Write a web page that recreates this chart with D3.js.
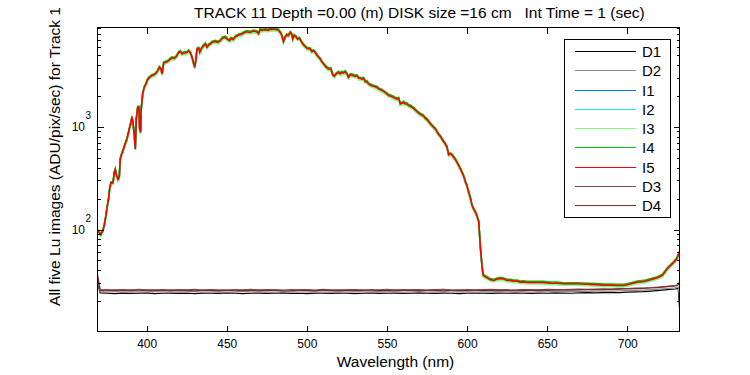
<!DOCTYPE html>
<html>
<head>
<meta charset="utf-8">
<script src="https://cdn.jsdelivr.net/npm/d3@7"></script>
<style>
body { margin: 0; background: #fff; }
svg { display: block; font-family: "Liberation Sans", Arial, sans-serif; }
</style>
</head>
<body>
<svg id="chart" width="750" height="375"></svg>
<script>
// wavelength grid of the five Lu images (nm)
var sigWl = [
  369.3, 371.4, 372.7, 373.5, 374.6, 375.2, 376.2, 376.9, 377.7, 379.0,
  379.8, 380.4, 381.0, 382.1, 382.9, 383.5, 384.6, 385.6, 386.6, 387.7,
  388.7, 389.4, 390.2, 390.8, 391.4, 392.3, 392.9, 393.5, 394.4, 395.2,
  395.6, 396.2, 396.6, 397.5, 398.5, 399.6, 400.6, 401.9, 403.3, 404.4,
  405.4, 406.4, 407.9, 408.9, 409.6, 410.6, 412.7, 413.7, 414.8, 415.8,
  417.3, 418.5, 420.0, 421.0, 422.1, 423.1, 424.1, 425.2, 426.2, 427.3,
  428.3, 429.4, 430.0, 430.8, 431.4, 432.5, 433.1, 434.1, 435.2, 436.6,
  437.7, 438.7, 439.8, 440.8, 442.9, 444.4, 446.0, 447.1, 449.2, 450.6,
  451.9, 452.7, 454.0, 455.4, 457.5, 459.6, 460.4, 462.5, 464.6, 466.6,
  468.7, 469.8, 470.8, 471.8, 473.9, 476.0, 477.1, 478.1, 479.1, 481.2,
  482.3, 483.3, 484.3, 485.4, 486.4, 487.5, 488.5, 489.6, 490.6, 491.2,
  492.0, 493.3, 494.1, 495.4, 496.8, 497.9, 498.9, 500.0, 502.1, 503.1,
  504.1, 505.2, 506.2, 507.3, 508.3, 509.3, 510.4, 512.1, 513.5, 515.0,
  516.2, 517.1, 518.3, 519.8, 520.8, 521.8, 522.9, 523.9, 525.0, 526.0,
  527.1, 528.1, 529.1, 530.2, 531.2, 532.3, 533.3, 534.3, 535.4, 536.4,
  537.5, 538.5, 539.6, 540.6, 541.6, 543.7, 544.8, 545.8, 547.9, 548.9,
  550.0, 551.0, 552.1, 554.1, 555.2, 556.2, 557.3, 558.3, 559.3, 560.4,
  561.4, 562.5, 563.5, 564.6, 565.6, 566.6, 567.7, 568.7, 569.8, 570.8,
  571.8, 572.9, 573.9, 575.0, 576.0, 577.1, 578.1, 579.1, 580.2, 581.2,
  582.3, 583.3, 584.3, 585.4, 586.4, 587.5, 588.5, 589.6, 590.6, 591.6,
  592.7, 593.7, 594.8, 595.8, 596.8, 597.9, 598.9, 600.0, 601.0, 602.1,
  603.1, 604.1, 605.2, 606.2, 607.3, 607.7, 608.3, 609.4, 610.0, 610.9,
  612.5, 614.6, 616.7, 618.8, 620.9, 622.9, 625.0, 627.1, 629.2, 631.3,
  633.3, 635.4, 637.5, 639.6, 643.8, 647.9, 652.1, 656.3, 660.4, 664.6,
  668.8, 672.9, 677.1, 681.3, 685.4, 689.6, 693.8, 697.9, 700.0, 702.1,
  706.3, 710.4, 714.6, 718.8, 721.9, 725.0, 727.1, 729.2, 730.9, 732.6
];

var I1 = [
  97, 88, 97, 108, 136, 159, 197, 246, 281, 281,
  357, 379, 337, 303, 320, 481, 546, 602, 672, 752,
  873, 976, 1091, 1221, 1091, 810, 602, 1176, 1527, 1527,
  941, 873, 1471, 2057, 2387, 2574, 2835, 2983, 3100, 3145,
  3218, 3339, 3732, 3597, 3218, 4113, 4233, 4331, 4495, 4599,
  4564, 4738, 5219, 5300, 5029, 5148, 5148, 5219, 5379, 5148,
  4671, 4022, 3732, 4495, 5623, 5712, 5219, 5623, 5970, 6287,
  5841, 6148, 6287, 6524, 6673, 6524, 6772, 7138, 7306, 6930,
  6772, 7138, 6930, 7405, 7692, 7861, 8049, 8286, 8158, 8405,
  8286, 7920, 8663, 8544, 8663, 8544, 8801, 8663, 8801, 8663,
  8544, 8158, 7692, 6633, 7306, 7692, 7583, 8158, 7811, 7039,
  7583, 7356, 7039, 7138, 6524, 6148, 5970, 5712, 5623, 5300,
  5415, 5219, 4916, 4671, 4495, 4233, 4022, 3732, 3597, 3597,
  3145, 3052, 3218, 3339, 3218, 3339, 3287, 3386, 3218, 2983,
  3145, 3145, 3100, 3052, 3100, 2921, 2921, 2875, 2921, 2708,
  2708, 2574, 2516, 2475, 2441, 2387, 2300, 2268, 2178, 2119,
  2059, 1990, 1970, 1904, 1865, 1835, 1865, 1643, 1667, 1705,
  1643, 1643, 1584, 1564, 1525, 1492, 1435, 1382, 1341, 1302,
  1283, 1246, 1192, 1157, 1106, 1051, 1011, 974, 939, 884,
  827, 797, 750, 707, 671, 624, 526, 537, 526, 499,
  473, 446, 414, 384, 356, 326, 289, 260, 228, 199,
  169, 156, 146, 134, 117, 93, 66, 42.6, 35.6, 34.7,
  33.7, 32.2, 31.7, 32.7, 33.2, 32.7, 31.7, 31.7, 31.2, 31.2,
  30.5, 30.7, 30.3, 30.3, 30.3, 30.2, 29.8, 29.7, 29.4, 29.4,
  29.4, 29.2, 29.0, 28.8, 28.5, 28.5, 28.3, 28.3, 28.8, 29.4,
  30.5, 30.9, 32.2, 33.7, 35.4, 41.1, 44.4, 47.7, 51.5, 59.4
];

var I2 = [
  96, 87, 96, 107, 134, 158, 195, 243, 278, 278,
  354, 375, 333, 300, 317, 476, 541, 596, 665, 745,
  864, 966, 1080, 1208, 1080, 802, 596, 1164, 1511, 1511,
  931, 864, 1456, 2036, 2363, 2548, 2807, 2953, 3068, 3113,
  3186, 3306, 3695, 3560, 3186, 4072, 4190, 4288, 4449, 4552,
  4518, 4690, 5167, 5247, 4978, 5096, 5096, 5167, 5324, 5096,
  4624, 3982, 3695, 4449, 5566, 5655, 5167, 5566, 5909, 6223,
  5782, 6086, 6223, 6458, 6605, 6458, 6703, 7066, 7232, 6860,
  6703, 7066, 6860, 7330, 7615, 7781, 7967, 8203, 8075, 8320,
  8203, 7840, 8575, 8457, 8575, 8457, 8712, 8575, 8712, 8575,
  8457, 8075, 7615, 6566, 7232, 7615, 7507, 8075, 7732, 6968,
  7507, 7281, 6968, 7066, 6458, 6086, 5909, 5655, 5566, 5247,
  5361, 5167, 4867, 4624, 4449, 4190, 3982, 3695, 3560, 3560,
  3113, 3021, 3186, 3306, 3186, 3306, 3254, 3352, 3186, 2953,
  3113, 3113, 3068, 3021, 3068, 2891, 2891, 2846, 2891, 2680,
  2680, 2548, 2490, 2450, 2417, 2363, 2277, 2245, 2156, 2097,
  2038, 1970, 1950, 1885, 1846, 1817, 1846, 1627, 1650, 1688,
  1627, 1627, 1568, 1548, 1509, 1477, 1420, 1368, 1328, 1289,
  1270, 1234, 1180, 1146, 1095, 1041, 1001, 964, 929, 875,
  818, 789, 743, 700, 664, 617, 520, 531, 520, 494,
  468, 441, 410, 380, 353, 322, 286, 258, 225, 197,
  168, 155, 144, 132, 116, 92, 66, 42, 35.3, 34.3,
  33.3, 31.9, 31.4, 32.3, 32.8, 32.3, 31.4, 31.4, 30.9, 30.9,
  30.2, 30.4, 30.0, 30.0, 30.0, 29.9, 29.5, 29.4, 29.1, 29.1,
  29.1, 28.9, 28.7, 28.5, 28.2, 28.2, 28.0, 28.0, 28.5, 29.1,
  30.2, 30.6, 31.9, 33.3, 35.1, 40.7, 43.9, 47.2, 51.0, 58.8
];

var I3 = [
  95, 86, 95, 105, 132, 155, 192, 239, 274, 274,
  348, 370, 328, 295, 312, 469, 533, 587, 655, 733,
  851, 951, 1063, 1190, 1063, 789, 587, 1146, 1488, 1488,
  917, 851, 1434, 2005, 2327, 2509, 2764, 2908, 3021, 3066,
  3137, 3255, 3638, 3506, 3137, 4010, 4126, 4222, 4381, 4482,
  4449, 4618, 5087, 5167, 4902, 5018, 5018, 5087, 5243, 5018,
  4553, 3921, 3638, 4381, 5481, 5568, 5087, 5481, 5819, 6128,
  5694, 5993, 6128, 6359, 6504, 6359, 6601, 6958, 7122, 6755,
  6601, 6958, 6755, 7218, 7498, 7662, 7845, 8077, 7952, 8193,
  8077, 7720, 8444, 8328, 8444, 8328, 8579, 8444, 8579, 8444,
  8328, 7952, 7498, 6466, 7122, 7498, 7392, 7952, 7614, 6861,
  7392, 7170, 6861, 6958, 6359, 5993, 5819, 5568, 5481, 5167,
  5279, 5087, 4792, 4553, 4381, 4126, 3921, 3638, 3506, 3506,
  3066, 2975, 3137, 3255, 3137, 3255, 3204, 3300, 3137, 2908,
  3066, 3066, 3021, 2975, 3021, 2847, 2847, 2802, 2847, 2639,
  2639, 2509, 2452, 2413, 2380, 2327, 2242, 2211, 2123, 2065,
  2007, 1940, 1920, 1856, 1818, 1789, 1818, 1602, 1625, 1662,
  1602, 1602, 1544, 1525, 1486, 1454, 1398, 1347, 1308, 1269,
  1251, 1215, 1162, 1128, 1078, 1025, 985, 950, 915, 862,
  806, 777, 731, 689, 654, 608, 512, 523, 512, 486,
  461, 434, 403, 374, 347, 317, 282, 254, 222, 194,
  165, 152, 142, 130, 114, 91, 65, 41.5, 34.7, 33.8,
  32.8, 31.4, 30.9, 31.8, 32.3, 31.8, 30.9, 30.9, 30.4, 30.4,
  29.7, 29.9, 29.5, 29.5, 29.5, 29.4, 29.0, 29.0, 28.7, 28.7,
  28.7, 28.5, 28.3, 28.1, 27.8, 27.8, 27.6, 27.6, 28.1, 28.7,
  29.7, 30.1, 31.4, 32.8, 34.5, 40.0, 43.2, 46.5, 50.2, 57.9
];

var I4 = [
  100, 91, 100, 112, 140, 165, 204, 254, 291, 291,
  370, 393, 349, 314, 331, 498, 566, 623, 696, 779,
  904, 1011, 1130, 1264, 1130, 838, 623, 1218, 1581, 1581,
  974, 904, 1523, 2130, 2471, 2665, 2936, 3088, 3209, 3256,
  3332, 3457, 3864, 3724, 3332, 4259, 4383, 4484, 4654, 4761,
  4725, 4906, 5404, 5488, 5207, 5330, 5330, 5404, 5569, 5330,
  4836, 4165, 3864, 4654, 5822, 5914, 5404, 5822, 6181, 6509,
  6048, 6365, 6509, 6755, 6909, 6755, 7011, 7390, 7565, 7175,
  7011, 7390, 7175, 7667, 7964, 8139, 8333, 8579, 8446, 8702,
  8579, 8200, 8969, 8846, 8969, 8846, 9112, 8969, 9112, 8969,
  8846, 8446, 7964, 6868, 7565, 7964, 7852, 8446, 8087, 7288,
  7852, 7616, 7288, 7390, 6755, 6365, 6181, 5914, 5822, 5488,
  5607, 5404, 5090, 4836, 4654, 4383, 4165, 3864, 3724, 3724,
  3256, 3160, 3332, 3457, 3332, 3457, 3403, 3506, 3332, 3088,
  3256, 3256, 3209, 3160, 3209, 3024, 3024, 2977, 3024, 2803,
  2803, 2665, 2605, 2563, 2528, 2471, 2381, 2348, 2255, 2194,
  2132, 2060, 2040, 1971, 1931, 1900, 1931, 1702, 1726, 1765,
  1702, 1702, 1640, 1620, 1579, 1545, 1485, 1431, 1389, 1348,
  1328, 1290, 1234, 1198, 1145, 1089, 1047, 1009, 972, 915,
  856, 825, 777, 732, 695, 646, 544, 556, 544, 517,
  490, 461, 428, 398, 369, 337, 299, 270, 236, 206,
  175, 162, 151, 138, 121, 96, 69, 44, 37, 35.9,
  34.8, 33.3, 32.8, 33.8, 34.3, 33.8, 32.8, 32.8, 32.3, 32.3,
  31.6, 31.8, 31.4, 31.4, 31.4, 31.3, 30.9, 30.8, 30.4, 30.4,
  30.4, 30.2, 30.0, 29.8, 29.5, 29.5, 29.3, 29.3, 29.8, 30.4,
  31.6, 32.0, 33.3, 34.8, 36.7, 42.5, 45.9, 49.4, 53.3, 61.5
];

var I5 = [
  98, 89, 98, 109, 137, 161, 199, 248, 284, 284,
  361, 383, 340, 306, 323, 486, 552, 608, 679, 760,
  882, 986, 1102, 1233, 1102, 818, 608, 1188, 1542, 1542,
  950, 882, 1486, 2078, 2411, 2600, 2864, 3013, 3131, 3177,
  3251, 3373, 3770, 3633, 3251, 4155, 4276, 4375, 4540, 4645,
  4610, 4786, 5272, 5354, 5080, 5200, 5200, 5272, 5433, 5200,
  4718, 4063, 3770, 4540, 5680, 5770, 5272, 5680, 6030, 6350,
  5900, 6210, 6350, 6590, 6740, 6590, 6840, 7210, 7380, 7000,
  6840, 7210, 7000, 7480, 7770, 7940, 8130, 8370, 8240, 8490,
  8370, 8000, 8750, 8630, 8750, 8630, 8890, 8750, 8890, 8750,
  8630, 8240, 7770, 6700, 7380, 7770, 7660, 8240, 7890, 7110,
  7660, 7430, 7110, 7210, 6590, 6210, 6030, 5770, 5680, 5354,
  5470, 5272, 4966, 4718, 4540, 4276, 4063, 3770, 3633, 3633,
  3177, 3083, 3251, 3373, 3251, 3373, 3320, 3420, 3251, 3013,
  3177, 3177, 3131, 3083, 3131, 2950, 2950, 2904, 2950, 2735,
  2735, 2600, 2541, 2500, 2466, 2411, 2323, 2291, 2200, 2140,
  2080, 2010, 1990, 1923, 1884, 1854, 1884, 1660, 1684, 1722,
  1660, 1660, 1600, 1580, 1540, 1507, 1449, 1396, 1355, 1315,
  1296, 1259, 1204, 1169, 1117, 1062, 1021, 984, 948, 893,
  835, 805, 758, 714, 678, 630, 531, 542, 531, 504,
  478, 450, 418, 388, 360, 329, 292, 263, 230, 201,
  171, 158, 147, 135, 118, 94, 67, 43, 36, 35,
  34, 32.5, 32, 33, 33.5, 33, 32, 32, 31.5, 31.5,
  30.8, 31, 30.6, 30.6, 30.6, 30.5, 30.1, 30, 29.7, 29.7,
  29.7, 29.5, 29.3, 29.1, 28.8, 28.8, 28.6, 28.6, 29.1, 29.7,
  30.8, 31.2, 32.5, 34, 35.8, 41.5, 44.8, 48.2, 52, 60
];

// wavelength grid of the dark images (nm)
var darkWl = [
  369.3, 371, 375, 380, 385, 390, 395, 400, 405, 410,
  415, 420, 425, 430, 435, 440, 445, 450, 455, 460,
  465, 470, 475, 480, 485, 490, 495, 500, 505, 510,
  515, 520, 525, 530, 535, 540, 545, 550, 555, 560,
  565, 570, 575, 580, 585, 590, 595, 600, 605, 610,
  615, 620, 625, 630, 635, 640, 645, 650, 655, 660,
  665, 670, 675, 680, 685, 690, 695, 700, 705, 710,
  715, 720, 725, 730, 731.8, 732.6
];

var D1 = [
  30, 24.2, 24.0, 23.8, 24.1, 23.9, 24.0, 24.2, 23.8, 24.0,
  24.1, 23.9, 24.0, 23.8, 24.1, 24.0, 23.9, 24.2, 24.0, 23.8,
  24.0, 24.1, 23.9, 24.0, 24.2, 23.9, 24.0, 23.8, 24.1, 24.0,
  23.9, 24.1, 24.0, 23.8, 24.0, 24.2, 23.9, 24.0, 24.1, 23.9,
  24.0, 24.2, 24.0, 23.9, 24.1, 24.0, 23.8, 24.0, 24.1, 24.0,
  23.9, 24.1, 24.0, 24.2, 24.0, 23.9, 24.1, 24.0, 24.2, 24.1,
  24.0, 24.2, 24.3, 24.2, 24.4, 24.5, 24.4, 24.6, 24.8, 24.9,
  25.2, 25.6, 26.0, 26.4, 26.8, 17.6
];

var D2 = [
  32, 24.9, 24.6, 25.0, 24.7, 24.9, 24.6, 24.8, 25.0, 24.7,
  24.9, 24.6, 24.8, 25.0, 24.7, 24.8, 24.9, 24.6, 24.8, 25.0,
  24.7, 24.9, 24.8, 24.6, 24.9, 25.0, 24.7, 24.8, 24.9, 24.6,
  24.8, 25.0, 24.7, 24.9, 24.8, 24.6, 24.9, 24.8, 25.0, 24.7,
  24.8, 24.9, 24.6, 24.8, 25.0, 24.7, 24.9, 24.8, 24.6, 24.9,
  24.8, 25.0, 24.7, 24.8, 24.9, 24.7, 24.9, 24.8, 25.0, 24.9,
  25.0, 25.1, 25.0, 25.2, 25.3, 25.2, 25.4, 25.5, 25.6, 25.8,
  26.0, 26.3, 26.7, 27.1, 27.6, 22.0
];

var D3 = [
  36.5, 25.9, 26.1, 25.7, 26.0, 25.8, 26.2, 25.9, 25.7, 26.1,
  25.8, 26.0, 25.9, 26.2, 25.7, 26.0, 25.9, 25.8, 26.1, 25.9,
  26.2, 25.8, 26.0, 25.9, 25.7, 26.1, 25.9, 26.0, 25.8, 26.2,
  25.9, 25.7, 26.0, 26.1, 25.8, 26.0, 25.9, 26.2, 25.8, 26.0,
  25.9, 26.1, 25.8, 26.0, 26.2, 25.9, 25.8, 26.1, 25.9, 26.0,
  26.2, 25.9, 26.0, 25.8, 26.1, 26.0, 25.9, 26.2, 26.0, 26.1,
  26.2, 26.3, 26.2, 26.4, 26.5, 26.4, 26.6, 26.7, 26.9, 27.0,
  27.3, 27.6, 28.0, 28.5, 29.2, 31.0
];

var D4 = [
  35, 25.6, 25.4, 25.8, 25.5, 25.7, 25.4, 25.6, 25.8, 25.5,
  25.7, 25.5, 25.6, 25.4, 25.8, 25.6, 25.5, 25.7, 25.4, 25.6,
  25.5, 25.7, 25.6, 25.8, 25.5, 25.4, 25.7, 25.6, 25.5, 25.7,
  25.6, 25.8, 25.5, 25.6, 25.7, 25.4, 25.6, 25.5, 25.7, 25.6,
  25.8, 25.5, 25.6, 25.7, 25.4, 25.6, 25.7, 25.5, 25.6, 25.8,
  25.6, 25.7, 25.5, 25.6, 25.8, 25.6, 25.7, 25.6, 25.8, 25.7,
  25.8, 25.9, 26.0, 26.0, 26.1, 26.2, 26.3, 26.4, 26.6, 26.8,
  27.0, 27.4, 27.8, 28.3, 29.0, 30.0
];

var seriesNames = ["D1", "D2", "I1", "I2", "I3", "I4", "I5", "D3", "D4"];
var xTicks = [400, 450, 500, 550, 600, 650, 700];
var yMajor = [100, 1000];
var yMinor = [20, 30, 40, 50, 60, 70, 80, 90, 200, 300, 400, 500, 600, 700, 800, 900,
              2000, 3000, 4000, 5000, 6000, 7000, 8000, 9000];
var yExponents = ["2", "3"];

var titleText = "TRACK 11 Depth =0.00 (m) DISK size =16 cm\u00a0\u00a0 Int Time = 1 (sec)";
var xLabel = "Wavelength (nm)";
var yLabel = "All five Lu images (ADU/pix/sec) for Track 1";

var series = [
  {wl: darkWl, v: D1, color: "#000000", w: 1.2},
  {wl: darkWl, v: D2, color: "#8c8c8c", w: 1.2},
  {wl: sigWl, v: I1, color: "#0072e6", w: 1.6},
  {wl: sigWl, v: I2, color: "#1ee6f0", w: 1.6},
  {wl: sigWl, v: I3, color: "#80ff80", w: 1.6},
  {wl: sigWl, v: I4, color: "#00c800", w: 1.6},
  {wl: sigWl, v: I5, color: "#ff0000", w: 1.6},
  {wl: darkWl, v: D3, color: "#804848", w: 1.2},
  {wl: darkWl, v: D4, color: "#802c2c", w: 1.2}
];

// axes frame (pixel centres)
var axL = 97.5, axR = 679.5, axT = 27.5, axB = 331.5;

var svg = d3.select("#chart");

var x = d3.scaleLinear().domain([369.3, 732.6]).range([axL, axR]);
var y = d3.scaleLog().domain([10.2, 9200]).range([axB, axT]);

svg.append("defs").append("clipPath").attr("id", "plotclip")
  .append("rect")
  .attr("x", axL).attr("y", axT)
  .attr("width", axR - axL).attr("height", axB - axT);

// data lines
var line = d3.line()
  .x(function(d) { return x(d[0]); })
  .y(function(d) { return y(d[1]); });

var plot = svg.append("g").attr("clip-path", "url(#plotclip)");
series.forEach(function(s) {
  plot.append("path")
    .datum(s.wl.map(function(w, i) { return [w, s.v[i]]; }))
    .attr("fill", "none")
    .attr("stroke", s.color)
    .attr("stroke-width", s.w)
    .attr("d", line);
});

// axes box
svg.append("rect")
  .attr("x", axL).attr("y", axT)
  .attr("width", axR - axL).attr("height", axB - axT)
  .attr("fill", "none").attr("stroke", "#000").attr("stroke-width", 1)
  .attr("shape-rendering", "crispEdges");

function styleAxis(g) {
  g.select(".domain").remove();
  g.selectAll("line").attr("stroke", "#000").attr("shape-rendering", "crispEdges");
  g.selectAll("text").attr("fill", "#000");
}

svg.append("g")
  .attr("transform", "translate(0," + axB + ")")
  .call(d3.axisBottom(x).tickValues(xTicks).tickSize(-6).tickSizeOuter(0)
        .tickPadding(8).tickFormat(d3.format("d")))
  .call(styleAxis)
  .selectAll("text").attr("font-size", 12).attr("font-family", "Liberation Sans, Arial, sans-serif");

svg.append("g")
  .attr("transform", "translate(0," + axT + ")")
  .call(d3.axisTop(x).tickValues(xTicks).tickSize(-6).tickSizeOuter(0).tickFormat(""))
  .call(styleAxis);

[[axL, d3.axisLeft], [axR, d3.axisRight]].forEach(function(a) {
  svg.append("g")
    .attr("transform", "translate(" + a[0] + ",0)")
    .call(a[1](y).tickValues(yMajor).tickSize(-6).tickSizeOuter(0).tickFormat(""))
    .call(styleAxis);
  svg.append("g")
    .attr("transform", "translate(" + a[0] + ",0)")
    .call(a[1](y).tickValues(yMinor).tickSize(-3).tickSizeOuter(0).tickFormat(""))
    .call(styleAxis);
});

// y tick labels, 10 with superscript exponent
yMajor.forEach(function(v, i) {
  var ty = y(v);
  svg.append("text")
    .attr("x", 85).attr("y", ty + 4.5)
    .attr("text-anchor", "end")
    .attr("font-size", 12)
    .text("10");
  svg.append("text")
    .attr("x", 85.5).attr("y", ty - 8)
    .attr("font-size", 10)
    .text(yExponents[i]);
});

// title and labels
svg.append("text")
  .attr("x", 194).attr("y", 17.5)
  .attr("font-size", 15.5)
  .text(titleText);

svg.append("text")
  .attr("x", 395.5).attr("y", 367)
  .attr("text-anchor", "middle")
  .attr("font-size", 15.5)
  .text(xLabel);

svg.append("text")
  .attr("transform", "translate(60,156.5) rotate(-90)")
  .attr("text-anchor", "middle")
  .attr("font-size", 15.5)
  .text(yLabel);

// legend
var lg = svg.append("g");
lg.append("rect")
  .attr("x", 564.5).attr("y", 39.5)
  .attr("width", 106).attr("height", 178)
  .attr("fill", "#fff").attr("stroke", "#000")
  .attr("shape-rendering", "crispEdges");

series.forEach(function(s, i) {
  var ly = Math.round(51 + i * 19.25) + 0.5;
  lg.append("line")
    .attr("x1", 575).attr("x2", 636)
    .attr("y1", ly).attr("y2", ly)
    .attr("stroke", s.color).attr("stroke-width", 1);
  lg.append("text")
    .attr("x", 642).attr("y", ly + 5.5)
    .attr("font-size", 15)
    .text(seriesNames[i]);
});
</script>
</body>
</html>
